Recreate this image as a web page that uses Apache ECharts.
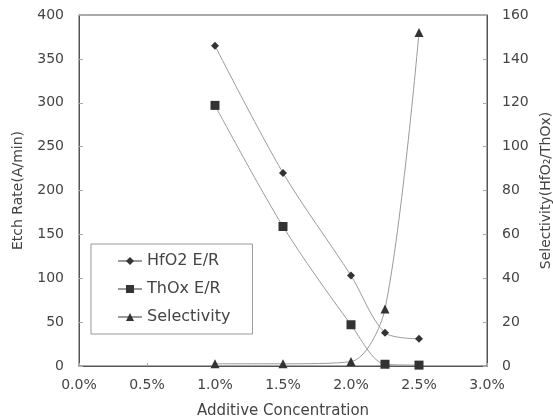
<!DOCTYPE html>
<html><head><meta charset="utf-8">
<script src="https://cdn.jsdelivr.net/npm/echarts@6/dist/echarts.min.js"></script>
<style>html,body{margin:0;padding:0;background:#fff}#c{width:553px;height:420px}</style>
</head><body><div id="c"></div>
<script>
const concentration = [1.0, 1.5, 2.0, 2.25, 2.5];
const hfo2ER = [365, 220, 103, 38, 31];
const thoxER = [297, 159, 47, 2, 1];
const selectivity = [1, 1, 2, 26, 152];
const xTicks = [0, 0.5, 1.0, 1.5, 2.0, 2.5, 3.0];

const FONT = '"DejaVu Sans", "Liberation Sans", sans-serif';
const chart = echarts.init(document.getElementById('c'));
const pair = a => concentration.map((x, i) => [x, a[i]]);
const lineStyle = {color: '#9a9a9a', width: 1};
const itemStyle = {color: '#333'};
chart.setOption({
  animation: false,
  textStyle: {fontFamily: FONT},
  grid: {left: 79, right: 66, top: 15, bottom: 54, show: true, borderColor: '#555', borderWidth: 1,
         outerBoundsMode: 'none', containLabel: false},
  legend: {
    orient: 'vertical', left: 91, top: 244,
    padding: [9, 22, 9, 26],
    borderColor: '#999', borderWidth: 1, itemGap: 12, itemWidth: 24, itemHeight: 10,
    textStyle: {fontSize: 16, color: '#444', fontFamily: FONT},
    data: ['HfO2 E/R', 'ThOx E/R', 'Selectivity']
  },
  xAxis: {
    type: 'value', min: 0, max: 3, interval: 0.5,
    name: 'Additive Concentration', nameLocation: 'middle', nameGap: 38,
    nameTextStyle: {fontSize: 15, color: '#444', fontFamily: FONT},
    axisLine: {lineStyle: {color: '#555'}},
    axisTick: {inside: true, length: 3, lineStyle: {color: '#aaa'}},
    splitLine: {show: false},
    axisLabel: {fontSize: 14, color: '#444', margin: 12, fontFamily: FONT, formatter: v => v.toFixed(1) + '%'}
  },
  yAxis: [{
    type: 'value', min: 0, max: 400, interval: 50,
    name: 'Etch Rate(A/min)', nameLocation: 'middle', nameGap: 54, nameRotate: 90,
    nameTextStyle: {fontSize: 14, color: '#444', fontFamily: FONT},
    axisLine: {show: true, lineStyle: {color: '#555'}},
    axisTick: {show: true, inside: true, length: 4, lineStyle: {color: '#aaa'}},
    splitLine: {show: false},
    axisLabel: {fontSize: 14, color: '#444', margin: 15, fontFamily: FONT}
  }, {
    type: 'value', min: 0, max: 160, interval: 20,
    name: 'Selectivity(HfO₂/ThOx)', nameLocation: 'middle', nameGap: 49, nameRotate: 90,
    nameTextStyle: {fontSize: 14, color: '#444', fontFamily: FONT},
    axisLine: {show: true, lineStyle: {color: '#555'}},
    axisTick: {show: true, inside: true, length: 4, lineStyle: {color: '#aaa'}},
    splitLine: {show: false},
    axisLabel: {fontSize: 14, color: '#444', margin: 15, fontFamily: FONT}
  }],
  series: [
    {name: 'HfO2 E/R', type: 'line', yAxisIndex: 0, data: pair(hfo2ER), smooth: 0.3,
     symbol: 'diamond', symbolSize: 8, lineStyle, itemStyle},
    {name: 'ThOx E/R', type: 'line', yAxisIndex: 0, data: pair(thoxER), smooth: 0.3,
     symbol: 'rect', symbolSize: 9, lineStyle, itemStyle},
    {name: 'Selectivity', type: 'line', yAxisIndex: 1, data: pair(selectivity), smooth: 0.3,
     symbol: 'triangle', symbolSize: 9, lineStyle, itemStyle}
  ]
});
</script></body></html>
